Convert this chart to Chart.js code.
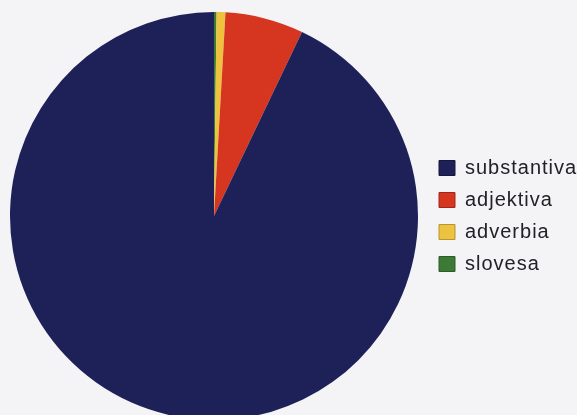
<!DOCTYPE html>
<html>
<head>
<meta charset="utf-8">
<script src="https://cdn.jsdelivr.net/npm/chart.js@4/dist/chart.umd.min.js"></script>
<style>
  html, body { margin: 0; padding: 0; background: #f4f4f6; overflow: hidden; }
  .wrap { position: relative; width: 577px; height: 432px; }
</style>
</head>
<body>
<div class="wrap"><canvas id="pie"></canvas></div>
<script>
// slices go clockwise from 12 o'clock, legend lists them reversed
const labels = ['slovesa', 'adverbia', 'adjektiva', 'substantiva'];
const values = [0.2, 0.7, 6.2, 92.9];
const colors = ['#3c7a36', '#ecc23e', '#d6351f', '#1e2058'];
const edgeColors = ['#2d5c29', '#b8952e', '#9e2818', '#15163d'];

// scanned legend text is a bit spaced out
const spacing = {
    id: 'spacing',
    beforeLayout(chart) { chart.ctx.letterSpacing = '1px'; },
    beforeDraw(chart) { chart.ctx.letterSpacing = '1px'; }
};

const ctx = document.getElementById('pie').getContext('2d');
new Chart(ctx, {
    type: 'pie',
    data: {
        labels: labels,
        datasets: [{
            data: values,
            backgroundColor: colors,
            borderWidth: 0
        }]
    },
    options: {
        responsive: true,
        maintainAspectRatio: false,
        animation: false,
        layout: { padding: { left: 1, top: 12, bottom: 12, right: 0 } },
        plugins: {
            tooltip: { enabled: false },
            legend: {
                position: 'right',
                reverse: true,
                maxWidth: 150,
                labels: {
                    boxWidth: 16,
                    boxHeight: 15,
                    padding: 12,
                    color: '#222226',
                    font: { family: 'Liberation Sans, Arial, sans-serif', size: 20 },
                    generateLabels(chart) {
                        const items = Chart.overrides.pie.plugins.legend.labels.generateLabels(chart);
                        return items.map(item => ({
                            ...item,
                            lineWidth: 1,
                            strokeStyle: edgeColors[item.index]
                        }));
                    }
                }
            }
        }
    },
    plugins: [spacing]
});
</script>
</body>
</html>
